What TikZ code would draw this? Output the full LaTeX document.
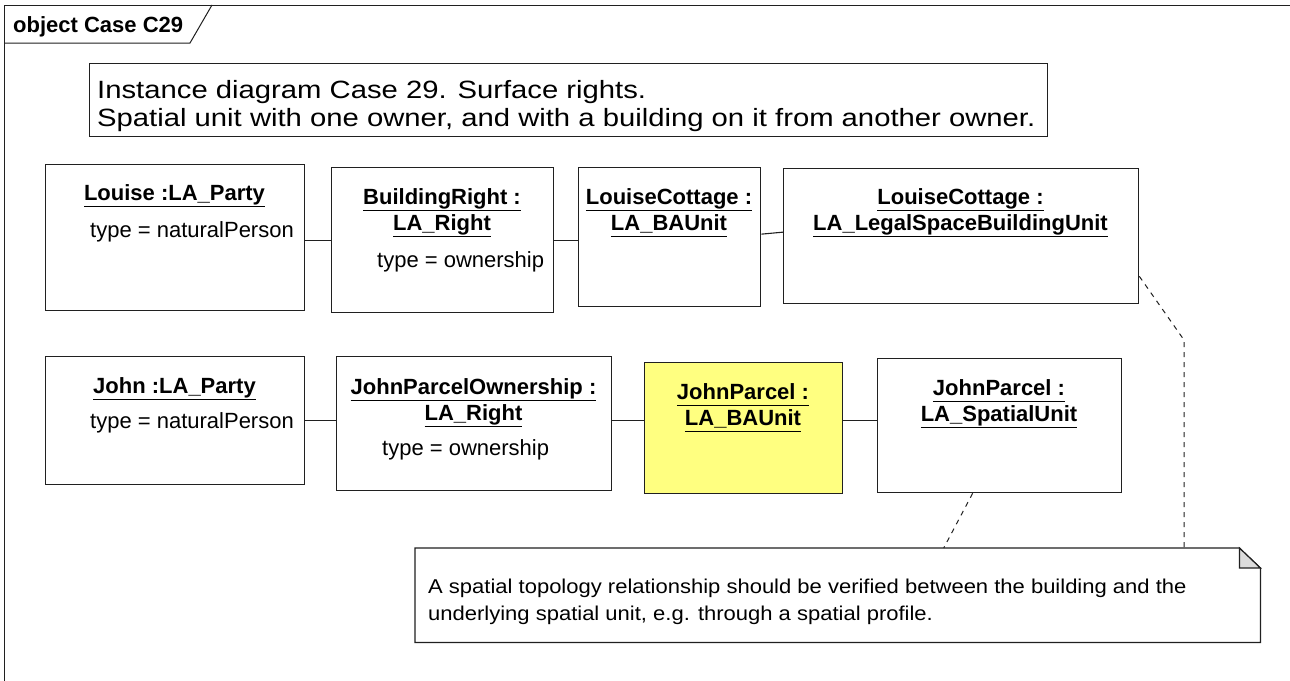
\documentclass[tikz,border=0pt]{standalone}
\usepackage{fontspec}
\setmainfont{Liberation Sans}
\newfontfamily\wideface[FakeStretch=1.17]{Liberation Sans}
\newfontfamily\noteface[FakeStretch=1.1]{Liberation Sans}
\usepackage{xcolor}
\usetikzlibrary{calc}
\definecolor{noteGray}{HTML}{DCDCDC}
\definecolor{unitYellow}{HTML}{FFFF80}
\definecolor{lineDark}{HTML}{202020}

% underlined object name, rule at a fixed depth
\newcommand{\objname}[1]{\setbox0\hbox{#1}\rlap{\vrule height -0.27em depth 0.34em width \wd0}\box0}

\begin{document}
\begin{tikzpicture}[x=1pt, y=-1pt,
    objbox/.style={draw=lineDark, line width=1.3pt, anchor=north west, inner sep=0pt},
    objtitle/.style={anchor=base, align=center, inner sep=0pt, font=\fontsize{22}{26}\selectfont\bfseries},
    objattr/.style={anchor=base west, inner sep=0pt, font=\fontsize{22}{26}\selectfont},
    assoc/.style={draw=lineDark, line width=1.1pt},
    notelink/.style={draw=lineDark, line width=1pt, dash pattern=on 5pt off 5pt}]
    \useasboundingbox[fill=white] (0,0) rectangle (1290,680);

    % frame and its tab
    \draw[lineDark, line width=1pt] (4,5) rectangle (1300,690);
    \draw[lineDark, line width=1pt] (212,5) -- (190,43) -- (4,43);
    \node[anchor=base west, inner sep=0pt, font=\fontsize{22}{26}\selectfont\bfseries] (frametitle) at (13,32) {object Case C29};

    % description (base anchor = last line)
    \node[objbox, line width=1pt, minimum width=958pt, minimum height=73pt] (desc) at (89,63) {};
    \node[anchor=base west, align=left, inner sep=0pt, font=\fontsize{25}{28}\wideface] (desctext) at (97,126)
        {Instance diagram Case 29. Surface rights.\\Spatial unit with one owner, and with a building on it from another owner.};

    % upper row
    \node[objbox, minimum width=259pt, minimum height=146pt] (louise) at (45,164) {};
    \node[objtitle] (louise-t) at (174.5,200) {\objname{Louise :LA\_Party}};
    \node[objattr] (louise-a) at (90,237) {type = naturalPerson};

    \node[objbox, minimum width=222pt, minimum height=145pt] (bright) at (331,167) {};
    \node[objtitle] (bright-t) at (442,230) {\objname{BuildingRight :}\\\objname{LA\_Right}};
    \node[objattr] (bright-a) at (377,267) {type = ownership};

    \node[objbox, minimum width=182pt, minimum height=139pt] (lcbau) at (578,167) {};
    \node[objtitle] (lcbau-t) at (669,230) {\objname{LouiseCottage :}\\\objname{LA\_BAUnit}};

    \node[objbox, minimum width=355pt, minimum height=135pt] (lclegal) at (783,168) {};
    \node[objtitle] (lclegal-t) at (960.5,230) {\objname{LouiseCottage :}\\\objname{LA\_LegalSpaceBuildingUnit}};

    % lower row
    \node[objbox, minimum width=259pt, minimum height=128pt] (john) at (45,356) {};
    \node[objtitle] (john-t) at (174.5,393) {\objname{John :LA\_Party}};
    \node[objattr] (john-a) at (90,428) {type = naturalPerson};

    \node[objbox, minimum width=275pt, minimum height=134pt] (jpo) at (336,356) {};
    \node[objtitle] (jpo-t) at (473.5,420) {\objname{JohnParcelOwnership :}\\\objname{LA\_Right}};
    \node[objattr] (jpo-a) at (382,455) {type = ownership};

    \node[objbox, fill=unitYellow, minimum width=198pt, minimum height=131pt] (jpbau) at (644,362) {};
    \node[objtitle] (jpbau-t) at (743,425) {\objname{JohnParcel :}\\\objname{LA\_BAUnit}};

    \node[objbox, minimum width=244pt, minimum height=134pt] (jpsu) at (877,358) {};
    \node[objtitle] (jpsu-t) at (999,421) {\objname{JohnParcel :}\\\objname{LA\_SpatialUnit}};

    % note
    \node[anchor=north west, inner sep=0pt, minimum width=845pt, minimum height=94pt] (note) at (415,548) {};
    \draw[lineDark, line width=1.2pt] (note.north west) -- ([xshift=-21pt]note.north east)
        -- ([yshift=-20pt]note.north east) -- (note.south east) -- (note.south west) -- cycle;
    \filldraw[fill=noteGray, draw=lineDark, line width=1.2pt] ([xshift=-21pt]note.north east)
        -- ([xshift=-21pt, yshift=-20pt]note.north east) -- ([yshift=-20pt]note.north east) -- cycle;
    \node[anchor=base west, align=left, inner sep=0pt, font=\fontsize{20}{27}\noteface] (notetext) at (428,620)
        {A spatial topology relationship should be verified between the building and the\\underlying spatial unit, e.g. through a spatial profile.};

    % associations
    \draw[assoc] (bright.west -| louise.east) -- (bright.west);
    \draw[assoc] (bright.east) -- (bright.east -| lcbau.west);
    \draw[assoc] ([yshift=3pt]lcbau.east) -- ([yshift=4pt]lclegal.west);
    \draw[assoc] (john.east) -- (john.east -| jpo.west);
    \draw[assoc] (jpo.east |- john.east) -- (john.east -| jpbau.west);
    \draw[assoc] (jpbau.east |- john.east) -- (john.east -| jpsu.west);

    % note links
    \coordinate (bend) at (1184,340);
    \draw[notelink] ([yshift=28pt]lclegal.south east) -- (bend) -- (bend |- note.north);
    \draw[notelink] ([xshift=-27pt]jpsu.south) -- ([xshift=106pt]note.north);
\end{tikzpicture}
\end{document}
